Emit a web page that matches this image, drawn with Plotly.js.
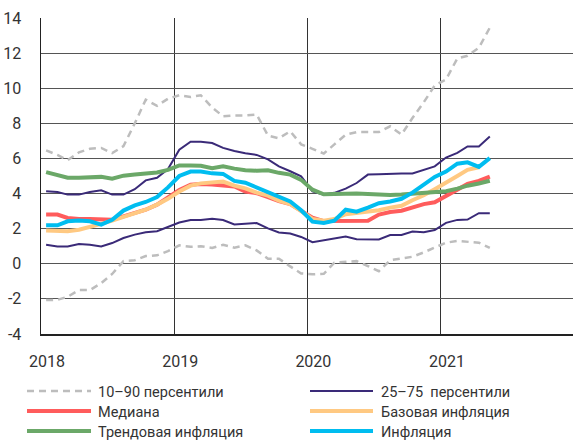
<!DOCTYPE html>
<html>
<head>
<meta charset="utf-8">
<script src="https://cdn.plot.ly/plotly-3.0.1.min.js"></script>
<style>
  html, body { margin: 0; padding: 0; background: #ffffff; }
  #chart { width: 573px; height: 442px; }
</style>
</head>
<body>
<div id="chart"></div>
<script>
// Monthly observations (mid-month), Jan 2018 – May 2021
const months = [
  '2018-01-15','2018-02-15','2018-03-15','2018-04-15','2018-05-15','2018-06-15',
  '2018-07-15','2018-08-15','2018-09-15','2018-10-15','2018-11-15','2018-12-15',
  '2019-01-15','2019-02-15','2019-03-15','2019-04-15','2019-05-15','2019-06-15',
  '2019-07-15','2019-08-15','2019-09-15','2019-10-15','2019-11-15','2019-12-15',
  '2020-01-15','2020-02-15','2020-03-15','2020-04-15','2020-05-15','2020-06-15',
  '2020-07-15','2020-08-15','2020-09-15','2020-10-15','2020-11-15','2020-12-15',
  '2021-01-15','2021-02-15','2021-03-15','2021-04-15','2021-05-15'
];

// 10–90 percentiles
const p90 = [6.46,6.2,5.9,6.35,6.55,6.6,6.3,6.7,8.0,9.35,9.0,9.4,9.6,9.5,9.6,8.9,8.4,8.45,8.45,8.5,
             7.3,7.15,7.55,6.8,6.55,6.28,6.8,7.35,7.5,7.5,7.5,7.83,7.36,8.3,9.2,10.15,10.5,11.7,11.85,12.3,13.45];
const p10 = [-2.07,-2.05,-1.88,-1.5,-1.5,-1.1,-0.58,0.15,0.2,0.44,0.48,0.72,1.05,0.97,1.0,0.9,1.08,0.92,1.05,0.76,
             0.29,0.29,-0.15,-0.55,-0.6,-0.57,0.06,0.1,0.15,-0.13,-0.42,0.2,0.3,0.4,0.65,0.9,1.2,1.3,1.25,1.2,0.9];
// 25–75 percentiles
const p75 = [4.13,4.09,3.94,3.94,4.09,4.19,3.94,3.94,4.25,4.75,4.9,5.4,6.5,6.95,6.95,6.88,6.6,6.42,6.3,6.2,
             5.95,5.55,5.27,4.98,4.13,3.94,4.04,4.28,4.6,5.08,5.1,5.14,5.14,5.14,5.33,5.55,6.05,6.32,6.68,6.68,7.25];
const p25 = [1.09,0.99,0.99,1.13,1.09,0.99,1.18,1.47,1.66,1.79,1.85,2.08,2.35,2.49,2.49,2.56,2.49,2.24,2.26,2.32,
             2.02,1.78,1.72,1.53,1.23,1.35,1.42,1.55,1.4,1.39,1.39,1.64,1.64,1.84,1.8,1.92,2.33,2.5,2.52,2.88,2.88];
// Медиана
const median = [2.8,2.8,2.61,2.55,2.55,2.55,2.51,2.7,2.89,3.08,3.37,3.75,4.2,4.5,4.55,4.52,4.45,4.4,4.12,4.02,
                3.8,3.57,3.4,3.0,2.62,2.43,2.43,2.45,2.43,2.45,2.8,2.95,3.02,3.18,3.4,3.5,3.85,4.2,4.55,4.72,4.97];
// Базовая инфляция (to Apr 2021)
const core = [1.89,1.85,1.85,1.94,2.08,2.27,2.46,2.65,2.86,3.08,3.37,3.7,4.12,4.45,4.58,4.63,4.68,4.45,4.3,4.05,
              3.88,3.6,3.4,3.0,2.55,2.45,2.55,2.82,2.9,2.97,3.05,3.2,3.3,3.62,3.9,4.25,4.6,5.0,5.35,5.5];
// Трендовая инфляция
const trend = [5.22,5.05,4.9,4.9,4.93,4.95,4.85,5.02,5.08,5.14,5.2,5.35,5.6,5.6,5.58,5.45,5.55,5.42,5.33,5.3,
               5.33,5.18,5.08,4.78,4.22,3.96,3.98,4.02,4.0,3.98,3.94,3.92,3.94,4.0,4.05,4.1,4.13,4.28,4.45,4.57,4.73];
// Инфляция
const cpi = [2.19,2.19,2.42,2.46,2.42,2.23,2.51,3.03,3.33,3.52,3.8,4.35,5.0,5.25,5.25,5.15,5.12,4.72,4.62,4.35,
             4.05,3.78,3.55,3.05,2.4,2.32,2.45,3.08,2.97,3.2,3.45,3.55,3.7,4.05,4.5,4.95,5.25,5.7,5.78,5.52,6.02];

const xTickVals = ['2018-01-01','2019-01-01','2020-01-01','2021-01-01'];
const xTickText = ['2018','2019','2020','2021'];
const yTickVals = [-4,-2,0,2,4,6,8,10,12,14];
const yTickText = ['-4','-2','0','2','4','6','8','10','12','14'];

const legendNames = ['10–90 персентили','25–75  персентили','Медиана','Базовая инфляция','Трендовая инфляция','Инфляция'];

const styles = {
  p:   {color:'#BDBDBD', width:2.5, dash:'7px,5px'},
  q:   {color:'#3A2A78', width:2},
  med: {color:'#FF5C5C', width:4},
  core:{color:'#FFC982', width:4},
  tr:  {color:'#6BA868', width:4},
  cpi: {color:'#00BDF0', width:4}
};

const traces = [
  {x: months, y: p90, line: styles.p},
  {x: months, y: p10, line: styles.p},
  {x: months, y: p75, line: styles.q},
  {x: months, y: p25, line: styles.q},
  {x: months, y: median, line: styles.med},
  {x: months.slice(0, core.length), y: core, line: styles.core},
  {x: months, y: trend, line: styles.tr},
  {x: months, y: cpi, line: styles.cpi}
].map(t => Object.assign({type:'scatter', mode:'lines', showlegend:false, hoverinfo:'skip'}, t));

// Custom legend (two columns, long line samples)
const plotL = 41, plotW = 532, plotT = 18, plotH = 316;
const px = v => (v - plotL) / plotW;
const py = v => (plotT + plotH - v) / plotH;
const legendItems = [
  {name: legendNames[0], style: styles.p,    col: 0, row: 0},
  {name: legendNames[1], style: styles.q,    col: 1, row: 0},
  {name: legendNames[2], style: styles.med,  col: 0, row: 1},
  {name: legendNames[3], style: styles.core, col: 1, row: 1},
  {name: legendNames[4], style: styles.tr,   col: 0, row: 2},
  {name: legendNames[5], style: styles.cpi,  col: 1, row: 2}
];
const colX = [[27, 91, 96], [310, 373, 379]];
const rowY = [391, 411, 431];
const shapes = [], annotations = [];
legendItems.forEach(it => {
  const [x0, x1, xt] = colX[it.col];
  const y = rowY[it.row];
  shapes.push({type:'line', xref:'paper', yref:'paper', x0: px(x0), x1: px(x1), y0: py(y), y1: py(y),
               line: {color: it.style.color, width: it.style.width, dash: it.style.dash || 'solid'}});
  annotations.push({xref:'paper', yref:'paper', x: px(xt), y: py(y + 1.5), xanchor:'left', yanchor:'middle',
                    text: it.name, showarrow:false, font:{family:'Roboto, sans-serif', size:14.5, color:'#333'}});
});

const tickFont = {family: 'Roboto, sans-serif', size: 16, color: '#333'};

const layout = {
  width: 573, height: 442,
  margin: {l: plotL, r: 0, t: plotT, b: 442 - plotT - plotH},
  paper_bgcolor: '#ffffff', plot_bgcolor: '#ffffff',
  showlegend: false,
  xaxis: {
    type: 'date', range: ['2018-01-01', '2021-12-29'],
    tickvals: xTickVals, ticktext: xTickText,
    showgrid: true, gridcolor: '#333333', gridwidth: 1,
    showline: true, linecolor: '#222222', linewidth: 1.5,
    zeroline: false, ticks: '', ticklabelshift: 6, ticklabelstandoff: 12,
    tickfont: tickFont
  },
  yaxis: {
    range: [-4, 14], tickvals: yTickVals, ticktext: yTickText,
    showgrid: true, gridcolor: '#555555', gridwidth: 1,
    showline: true, linecolor: '#222222', linewidth: 1.5,
    zeroline: false, ticks: '', ticklabelstandoff: 15,
    tickfont: tickFont
  },
  shapes: shapes,
  annotations: annotations
};

Plotly.newPlot('chart', traces, layout, {staticPlot: true, displayModeBar: false});
</script>
</body>
</html>
